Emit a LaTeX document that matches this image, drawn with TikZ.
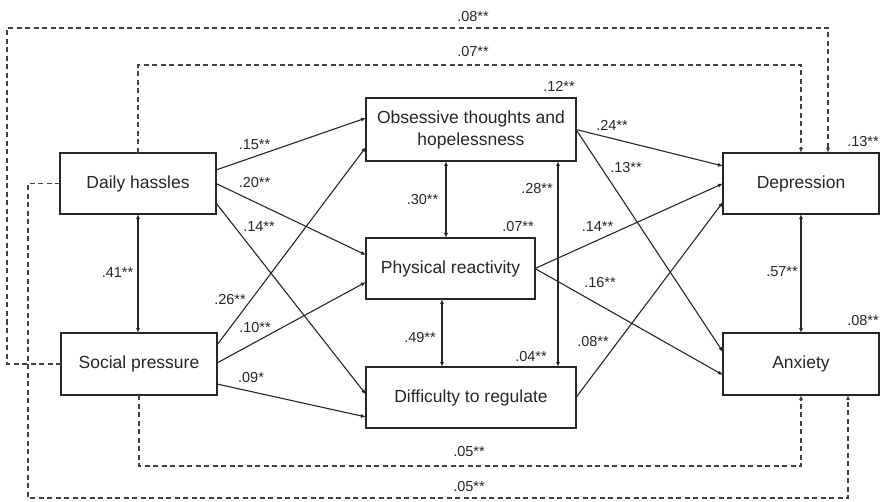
\documentclass[tikz,border=0pt]{standalone}
\usepackage{fontspec}
\setmainfont{Liberation Sans}
\usetikzlibrary{arrows.meta,calc}
\begin{document}
\begin{tikzpicture}[x=1pt,y=-1pt,
  box/.style={draw=black!85, line width=1.1pt, inner sep=0pt, outer sep=0pt, align=center,
    font=\fontsize{17.5}{22}\selectfont, text=black!85},
  lab/.style={inner sep=0pt, font=\fontsize{14.5}{16}\selectfont, text=black!85},
  arr/.style={draw=black!85, line width=1.1pt, -{Latex[length=5pt,width=4pt]}},
  darr/.style={draw=black!85, line width=1.1pt, {Latex[length=5pt,width=4pt]}-{Latex[length=5pt,width=4pt]}},
  dsh/.style={draw=black!75, line width=1.1pt, dash pattern=on 5pt off 3.5pt, -{Latex[length=5pt,width=4pt]}}]
\useasboundingbox (0,0) rectangle (880,502);
% boxes
\node[box, minimum width=156pt, minimum height=61pt] (dh) at (138,183.5) {Daily hassles};
\node[box, minimum width=156pt, minimum height=62pt] (sp) at (139,364) {Social pressure};
\node[box, minimum width=210pt, minimum height=63pt] (ob) at (471,129.5) {Obsessive thoughts and\\hopelessness};
\node[box, minimum width=169pt, minimum height=61pt] (pr) at (450.5,268.5) {Physical reactivity};
\node[box, minimum width=210pt, minimum height=61pt] (dr) at (471,397.5) {Difficulty to regulate};
\node[box, minimum width=156pt, minimum height=61pt] (de) at (801,183.5) {Depression};
\node[box, minimum width=156pt, minimum height=62pt] (an) at (801,364) {Anxiety};
% dashed paths
\coordinate (c08) at (7,28);
\coordinate (c07) at (470,65);
\coordinate (c05a) at (470,466);
\coordinate (c05b) at (28,498);
\draw[dsh] (sp.west) -| (c08) -| ([xshift=27pt]de.north);
\draw[dsh] (dh.north) |- (c07) -| (de.north);
\draw[dsh] (dh.west) -| (c05b) -| ([xshift=47pt]an.south);
\draw[dsh] (sp.south) |- (c05a) -| (an.south);
% solid paths
\draw[darr] (dh.south) -- (dh.south |- sp.north);
\draw[arr] ([yshift=13.5pt]dh.east) -- ([yshift=11.5pt]ob.west);
\draw[arr] (dh.east) -- ([yshift=13.5pt]pr.west);
\draw[arr] ([yshift=-19.5pt]dh.east) -- ([yshift=3pt]dr.west);
\draw[arr] ([yshift=19pt]sp.east) -- ([yshift=-17.5pt]ob.west);
\draw[arr] ([yshift=1pt]sp.east) -- ([yshift=-13.5pt]pr.west);
\draw[arr] ([yshift=-20pt]sp.east) -- ([yshift=-19.5pt]dr.west);
\draw[darr] ([xshift=-25pt]ob.south) -- ([xshift=-25pt]ob.south |- pr.north);
\draw[darr] ([xshift=-8.5pt]pr.south) -- ([xshift=-8.5pt]pr.south |- dr.north);
\draw[darr] ([xshift=87pt]ob.south) -- ([xshift=87pt]ob.south |- dr.north);
\draw[arr] (ob.east) -- ([yshift=17.5pt]de.west);
\draw[arr] (ob.east) -- ([yshift=12pt]an.west);
\draw[arr] (pr.east) -- (de.west);
\draw[arr] (pr.east) -- ([yshift=-11pt]an.west);
\draw[arr] (dr.east) -- ([yshift=-18.5pt]de.west);
\draw[darr] (de.south) -- (an.north);
% labels
\node[lab] (l1) at (473,17) {.08**};
\node[lab] (l2) at (473,52) {.07**};
\node[lab] (l3) at (469,452) {.05**};
\node[lab] (l4) at (469,487) {.05**};
\node[lab] (l5) at (254.5,145) {.15**};
\node[lab] (l6) at (254.5,183) {.20**};
\node[lab] (l7) at (259,227) {.14**};
\node[lab] (l8) at (117.5,273) {.41**};
\node[lab] (l9) at (230,300) {.26**};
\node[lab] (l10) at (255,328) {.10**};
\node[lab] (l11) at (251,378) {.09*};
\node[lab] (l12) at (422.5,200) {.30**};
\node[lab] (l13) at (420,338) {.49**};
\node[lab] (l14) at (537,189) {.28**};
\node[lab] (l15) at (518,227) {.07**};
\node[lab] (l16) at (531,357) {.04**};
\node[lab] (l17) at (559,86) {.12**};
\node[lab] (l18) at (612,125) {.24**};
\node[lab] (l19) at (626,168) {.13**};
\node[lab] (l20) at (597.5,227) {.14**};
\node[lab] (l21) at (600,283) {.16**};
\node[lab] (l22) at (593,342) {.08**};
\node[lab] (l23) at (782,272) {.57**};
\node[lab] (l24) at (863,142) {.13**};
\node[lab] (l25) at (863,321) {.08**};
\end{tikzpicture}
\end{document}
